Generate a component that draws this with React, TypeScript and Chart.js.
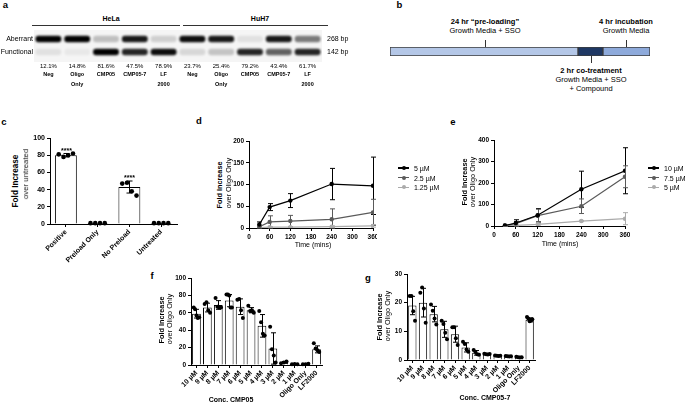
import React, { useEffect, useRef } from 'react';
import { Chart, registerables } from 'chart.js';

Chart.register(...registerables);

const FONT = "'Liberation Sans', Arial, Helvetica, sans-serif";
const BLACK = '#000';

// ---------- Panel a : gel ----------
const gelPercents = ['12.1%', '14.8%', '81.6%', '47.5%', '78.9%', '23.7%', '25.4%', '79.2%', '43.4%', '61.7%'];
const gelLaneNames = [['Neg'], ['Oligo', 'Only'], ['CMP05'], ['CMP05-7'], ['LF', '2000'], ['Neg'], ['Oligo', 'Only'], ['CMP05'], ['CMP05-7'], ['LF', '2000']];
const gelCellLines = ['HeLa', 'HuH7'];
const bandSizesBp = [268, 142];
const bandNames = ['Aberrant', 'Functional'];
const aberrantIntensity = [1, 1, 0.22, 0.9, 0.15, 0.95, 0.9, 0.08, 0.9, 0.5];
const functionalIntensity = [0.08, 0.05, 1, 0.85, 0.95, 0.12, 0.2, 0.85, 0.6, 0.85];

// ---------- Panel b : timeline ----------
const timelineSegments = [72.3, 9.6, 18.1];
const timelineColors = ['#b4c7e7', '#1f3864', '#8eaadb'];

// ---------- Panel c ----------
const cLabels = ['Positive', 'Preload Only', 'No Preload', 'Untreated'];
const cMeans = [80, 1, 43, 1];
const cSD = [2, 0, 7, 0];
const cDots = [[81, 78, 80, 82], [1, 1, 1, 1], [47, 48, 38, 33], [1, 1, 1, 1]];
const cSignif = ['****', '', '****', ''];

// ---------- Panel d ----------
const dTimes = [30, 60, 120, 240, 360];
const dSeriesLabels = ['5 µM', '2.5 µM', '1.25 µM'];
const d5 = [8, 48, 63, 101, 97];
const d5sd = [6, 8, 16, 36, 66];
const d25 = [3, 14, 16, 20, 36];
const d25sd = [2, 14, 13, 24, 30];
const d125 = [1, 2, 2, 3, 5];
const d125sd = [0.5, 1, 1, 2, 3];

// ---------- Panel e ----------
const eTimes = [30, 60, 120, 240, 360];
const eSeriesLabels = ['10 µM', '7.5 µM', '5 µM'];
const e10 = [2, 14, 50, 171, 257];
const e10sd = [1, 15, 31, 84, 107];
const e75 = [2, 11, 48, 92, 229];
const e75sd = [1, 10, 30, 34, 51];
const e5 = [1, 3, 8, 23, 34];
const e5sd = [0.5, 2, 4, 3, 28];

const seriesColors = ['#000000', '#5a5a5a', '#ababab'];

// ---------- Panel f ----------
const concLabels = ['10 µM', '9 µM', '8 µM', '7 µM', '6 µM', '5 µM', '4 µM', '3 µM', '2 µM', '1 µM', 'Oligo Only', 'LF2000'];
const fMeans = [59, 66, 69, 74, 67, 63, 45, 19, 3, 1, 1, 18];
const fSD = [5, 5, 5, 7, 9, 3, 13, 18, 1, 0.2, 0.3, 4];
const fDots = [
  [66, 64, 57, 54, 55], [70, 72, 63, 60], [77, 67, 66, 66], [81, 81, 80, 66, 66],
  [75, 76, 63, 54], [68, 62, 63, 60], [62, 49, 36, 34], [44, 18, 11, 3],
  [2, 3, 4], [1, 1.2, 1], [1, 1, 1.5], [25, 19, 17, 15],
];

// ---------- Panel g ----------
const gMeans = [19, 20, 16, 10.7, 9, 4.4, 2.5, 2, 1.5, 1.3, 1, 14];
const gSD = [3.2, 5, 2.7, 2.8, 2.8, 1.6, 0.8, 0.2, 0.15, 0.1, 0.1, 0.7];
const gDots = [
  [22.3, 22.3, 17, 13.7], [23.5, 25.3, 18, 13], [19.4, 17.2, 14.5, 12.4], [13.7, 12.6, 9.5, 7.2],
  [11.4, 11.4, 7.6, 5.2], [6.4, 5.6, 3.7, 2.9], [3.5, 2.8, 2, 1.8], [2.2, 2, 1.9, 2.1],
  [1.6, 1.5, 1.4, 1.5], [1.4, 1.3, 1.2, 1.3], [1.1, 1, 0.9, 1], [15, 14.5, 13.5, 13.8, 14.2],
];

// ---------- helpers ----------
type ErrItem = { x: number; mean: number; sd: number; color?: string; label?: string };
type Dot = { x: number; y: number };

function makeErrorPlugin(items: ErrItem[], cap: number, under: boolean, dots: Dot[] = [], dotR = 2, starSize = 7) {
  const draw = (chart: any) => {
    const xs = chart.scales.x;
    const ys = chart.scales.y;
    const ctx = chart.ctx;
    ctx.save();
    ctx.lineWidth = 1;
    for (const it of items) {
      const x = Math.round(xs.getPixelForValue(it.x)) + 0.5;
      const top = ys.getPixelForValue(it.mean + it.sd);
      const bot = ys.getPixelForValue(Math.max(it.mean - it.sd, ys.min));
      ctx.strokeStyle = it.color || BLACK;
      if (it.sd > 0) {
        ctx.beginPath();
        ctx.moveTo(x, top); ctx.lineTo(x, bot);
        ctx.moveTo(x - cap, top); ctx.lineTo(x + cap, top);
        ctx.moveTo(x - cap, bot); ctx.lineTo(x + cap, bot);
        ctx.stroke();
      }
      if (it.label) {
        ctx.fillStyle = BLACK;
        ctx.font = `bold ${starSize}px ${FONT}`;
        ctx.textAlign = 'center';
        ctx.textBaseline = 'bottom';
        ctx.fillText(it.label, x, top + 1);
      }
    }
    ctx.fillStyle = BLACK;
    for (const d of dots) {
      const px = xs.getPixelForValue(d.x);
      const py = ys.getPixelForValue(d.y);
      ctx.beginPath();
      ctx.arc(px, py, dotR, 0, Math.PI * 2);
      ctx.fill();
    }
    ctx.restore();
  };
  return {
    id: 'errorBars',
    beforeDatasetsDraw(chart: any) { if (under) draw(chart); },
    afterDatasetsDraw(chart: any) { if (!under) draw(chart); },
  };
}

function yAxis(min: number, max: number, step: number, width: number, size: number) {
  return {
    type: 'linear', position: 'left', min, max,
    ticks: { stepSize: step, color: BLACK, font: { family: FONT, size, weight: 'bold' }, padding: 2 },
    grid: { drawOnChartArea: false, drawTicks: true, tickLength: 3, tickColor: BLACK, color: BLACK },
    border: { display: true, color: BLACK, width: 1 },
    afterFit: (s: any) => { s.width = width; s.paddingTop = 0; s.paddingBottom = 0; },
  };
}

function baseOptions(padTop: number, padRight: number) {
  return {
    responsive: false,
    animation: false,
    events: [],
    layout: { padding: { top: padTop, right: padRight, left: 0, bottom: 0 } },
    plugins: { legend: { display: false }, tooltip: { enabled: false } },
  };
}

function barConfig(p: any) {
  const pts: Dot[] = [];
  p.dots.forEach((vals: number[], i: number) => {
    const k = vals.length;
    vals.forEach((v, j) => pts.push({ x: i + (k > 1 ? (j / (k - 1) - 0.5) * p.spread : 0), y: v }));
  });
  const items: ErrItem[] = p.means.map((m: number, i: number) => ({ x: i, mean: m, sd: p.sds[i], label: p.stars ? p.stars[i] : '' }));
  return {
    type: 'bar',
    data: {
      labels: p.labels,
      datasets: [
        { data: p.means, backgroundColor: '#ffffff', borderColor: BLACK, borderWidth: 1, barPercentage: p.barPct, categoryPercentage: 1 },
      ],
    },
    options: {
      ...baseOptions(p.padTop, p.padRight),
      scales: {
        x: {
          type: 'category', offset: true,
          ticks: { color: BLACK, font: { family: FONT, size: p.xFont, weight: 'bold' }, minRotation: 45, maxRotation: 45, autoSkip: false, padding: 1 },
          grid: { offset: false, drawOnChartArea: false, drawTicks: true, tickLength: 3, tickColor: BLACK, color: BLACK },
          border: { display: true, color: BLACK, width: 1 },
          afterFit: (s: any) => { s.height = p.xH; s.paddingLeft = 0; s.paddingRight = 0; },
        },
        y: yAxis(p.yMin, p.yMax, p.yStep, p.yW, p.yFont),
      },
    },
    plugins: [makeErrorPlugin(items, p.cap, false, pts, p.dotR, p.starSize)],
  };
}

function lineConfig(p: any) {
  const items: ErrItem[] = [];
  p.series.forEach((s: number[], k: number) => s.forEach((v, i) => items.push({ x: p.times[i], mean: v, sd: p.sds[k][i], color: seriesColors[k] })));
  return {
    type: 'line',
    data: {
      datasets: p.series.map((s: number[], k: number) => ({
        label: p.labels[k],
        data: p.times.map((t: number, i: number) => ({ x: t, y: s[i] })),
        borderColor: seriesColors[k], backgroundColor: seriesColors[k],
        borderWidth: 1.2, pointRadius: 2.2, pointBorderWidth: 0, tension: 0,
      })),
    },
    options: {
      ...baseOptions(p.padTop, p.padRight),
      scales: {
        x: {
          type: 'linear', min: 0, max: 360,
          ticks: { stepSize: 60, color: BLACK, font: { family: FONT, size: 6.5, weight: 'bold' }, padding: 2, maxRotation: 0 },
          grid: { drawOnChartArea: false, drawTicks: true, tickLength: 3, tickColor: BLACK, color: BLACK },
          border: { display: true, color: BLACK, width: 1 },
          afterFit: (s: any) => { s.height = p.xH; s.paddingLeft = 0; s.paddingRight = 0; },
        },
        y: yAxis(0, p.yMax, p.yStep, p.yW, 6.5),
      },
    },
    plugins: [makeErrorPlugin(items, 2.5, true)],
  };
}

const gelPlugin = {
  id: 'gel',
  beforeDatasetsDraw(chart: any) {
    const { ctx, chartArea: a } = chart;
    ctx.save();
    ctx.fillStyle = '#f5f5f5';
    ctx.fillRect(a.left, a.top, a.right - a.left, a.bottom - a.top);
    ctx.filter = 'blur(1.3px)';
  },
  afterDatasetsDraw(chart: any) { chart.ctx.restore(); },
};

function gelConfig() {
  const BAND = 1.17;
  const ymin = 87, ymax = 416;
  const mk = (bp: number, intens: number[]) => ({
    type: 'bar',
    data: gelPercents.map(() => [bp / BAND, bp * BAND]),
    backgroundColor: intens.map((a) => `rgba(0,0,0,${a})`),
    borderWidth: 0, barPercentage: 0.9, categoryPercentage: 1, grouped: false, borderRadius: 3, borderSkipped: false,
  });
  const noGrid = { display: false, drawTicks: false };
  return {
    type: 'bar',
    data: { labels: gelPercents, datasets: [mk(bandSizesBp[0], aberrantIntensity), mk(bandSizesBp[1], functionalIntensity)] },
    options: {
      ...baseOptions(0, 0),
      scales: {
        x: {
          type: 'category', position: 'bottom', weight: 0, grid: noGrid, border: { display: false },
          ticks: { color: BLACK, font: { family: FONT, size: 6 }, padding: 1, maxRotation: 0, autoSkip: false },
          afterFit: (s: any) => { s.height = 7; s.paddingLeft = 0; s.paddingRight = 0; },
        },
        x2: {
          type: 'category', position: 'bottom', weight: 1, labels: gelLaneNames, offset: true, grid: noGrid, border: { display: false },
          ticks: { color: BLACK, font: { family: FONT, size: 5.5, weight: 'bold', lineHeight: '10px' }, padding: 0, maxRotation: 0, autoSkip: false },
          afterFit: (s: any) => { s.height = 25; s.paddingLeft = 0; s.paddingRight = 0; },
        },
        y: {
          type: 'logarithmic', position: 'left', min: ymin, max: ymax, grid: noGrid, border: { display: false },
          afterBuildTicks: (s: any) => { s.ticks = bandSizesBp.map((v) => ({ value: v })); },
          ticks: { color: BLACK, font: { family: FONT, size: 7 }, padding: 1, autoSkip: false, callback: (v: any) => bandNames[bandSizesBp.indexOf(Number(v))] },
          afterFit: (s: any) => { s.width = 34; s.paddingTop = 0; s.paddingBottom = 0; },
        },
        y2: {
          type: 'logarithmic', position: 'right', min: ymin, max: ymax, grid: noGrid, border: { display: false },
          afterBuildTicks: (s: any) => { s.ticks = bandSizesBp.map((v) => ({ value: v })); },
          ticks: { color: BLACK, font: { family: FONT, size: 7 }, padding: 5, autoSkip: false, callback: (v: any) => `${v} bp` },
          afterFit: (s: any) => { s.width = 30; s.paddingTop = 0; s.paddingBottom = 0; },
        },
      },
    },
    plugins: [gelPlugin],
  };
}

function timelineConfig() {
  return {
    type: 'bar',
    data: {
      labels: [''],
      datasets: timelineSegments.map((v, i) => ({
        data: [v], backgroundColor: timelineColors[i], borderColor: '#3c3c3c', borderWidth: 1,
        borderSkipped: false, barPercentage: 1, categoryPercentage: 1,
      })),
    },
    options: {
      ...baseOptions(1, 1),
      layout: { padding: 1 },
      indexAxis: 'y',
      scales: {
        x: { type: 'linear', stacked: true, min: 0, max: 100, display: false },
        y: { type: 'category', stacked: true, display: false },
      },
    },
  };
}

// ---------- components ----------
function ChartCanvas({ left, top, width, height, make }: any) {
  const ref = useRef<HTMLCanvasElement | null>(null);
  useEffect(() => {
    const chart = new Chart(ref.current as HTMLCanvasElement, make());
    return () => chart.destroy();
  }, []);
  return <canvas ref={ref} width={width} height={height} style={{ position: 'absolute', left, top, width, height }} />;
}

function Txt({ x, y, children, size = 7, bold = false, align = 'center' }: any) {
  const tx = align === 'center' ? '-50%' : align === 'right' ? '-100%' : '0';
  return (
    <div style={{ position: 'absolute', left: x, top: y, transform: `translate(${tx}, -50%)`, fontSize: size, fontWeight: bold ? 700 : 400, lineHeight: 1, whiteSpace: 'nowrap', color: BLACK }}>
      {children}
    </div>
  );
}

function VTxt({ x, y, children, size = 7.3, bold = false, color = BLACK }: any) {
  return (
    <div style={{ position: 'absolute', left: x, top: y, transform: 'translate(-50%, -50%) rotate(-90deg)', fontSize: size, fontWeight: bold ? 700 : 400, lineHeight: 1, whiteSpace: 'nowrap', color }}>
      {children}
    </div>
  );
}

function Line({ x, y, w, h, color = '#333' }: any) {
  return <div style={{ position: 'absolute', left: x, top: y, width: w, height: h, background: color }} />;
}

function LegendRow({ x, y, color, label }: any) {
  return (
    <>
      <div style={{ position: 'absolute', left: x, top: y - 0.6, width: 11, height: 1.2, background: color }} />
      <div style={{ position: 'absolute', left: x + 3.5, top: y - 2, width: 4, height: 4, borderRadius: 2, background: color }} />
      <Txt x={x + 16} y={y} size={7} align="left">{label}</Txt>
    </>
  );
}

export default function App() {
  return (
    <div style={{ position: 'fixed', left: 0, top: 0, width: 685, height: 404, background: '#fff', overflow: 'hidden', fontFamily: FONT }}>
      {/* panel letters */}
      <Txt x={5.5} y={5} size={9.5} bold>a</Txt>
      <Txt x={399.5} y={5} size={9.5} bold>b</Txt>
      <Txt x={4} y={122} size={9.5} bold>c</Txt>
      <Txt x={199} y={121} size={9.5} bold>d</Txt>
      <Txt x={453} y={122} size={9.5} bold>e</Txt>
      <Txt x={152} y={276} size={9.5} bold>f</Txt>
      <Txt x={368} y={278} size={9.5} bold>g</Txt>

      {/* panel a */}
      <Txt x={111} y={18} size={7} bold>{gelCellLines[0]}</Txt>
      <Txt x={260} y={18} size={7} bold>{gelCellLines[1]}</Txt>
      <Line x={32} y={25} w={148} h={1} />
      <Line x={183} y={25} w={145} h={1} />
      <ChartCanvas left={0} top={30} width={352} height={64} make={gelConfig} />

      {/* panel b */}
      <Txt x={485} y={22} size={7.5} bold>24 hr “pre-loading”</Txt>
      <Txt x={485} y={31} size={7.5}>Growth Media + SSO</Txt>
      <Txt x={626} y={22} size={7.5} bold>4 hr incubation</Txt>
      <Txt x={626} y={31} size={7.5}>Growth Media</Txt>
      <Txt x={591} y={71} size={7.5} bold>2 hr co-treatment</Txt>
      <Txt x={591} y={80} size={7.5}>Growth Media + SSO</Txt>
      <Txt x={591} y={89} size={7.5}>+ Compound</Txt>
      <Line x={485} y={40} w={1} h={7} />
      <Line x={626} y={40} w={1} h={7} />
      <Line x={591} y={56} w={1} h={7} />
      <ChartCanvas left={389} top={46} width={262} height={11} make={timelineConfig} />

      {/* panel c */}
      <ChartCanvas left={28} top={130} width={152} height={150} make={() => barConfig({
        labels: cLabels, means: cMeans, sds: cSD, dots: cDots, stars: cSignif, spread: 0.45, dotR: 2.3, barPct: 0.69,
        yMin: 0, yMax: 100, yStep: 20, yW: 22, yFont: 7, xFont: 7, xH: 56, padTop: 8, padRight: 3, cap: 3, starSize: 7,
      })} />
      <VTxt x={15.5} y={181} size={8.2} bold>Fold Increase</VTxt>
      <VTxt x={25.5} y={174} size={7.8} color="#222">over untreated</VTxt>

      {/* panel d */}
      <ChartCanvas left={225} top={131} width={152} height={122} make={() => lineConfig({
        times: dTimes, series: [d5, d25, d125], sds: [d5sd, d25sd, d125sd], labels: dSeriesLabels,
        yMax: 200, yStep: 50, yW: 24, xH: 25, padTop: 10, padRight: 4,
      })} />
      <VTxt x={220} y={185} bold>Fold Increase</VTxt>
      <VTxt x={228.5} y={183}>over Oligo Only</VTxt>
      <Txt x={313} y={244} size={7}>Time (mins)</Txt>
      {dSeriesLabels.map((l, k) => <LegendRow key={l} x={398} y={168 + k * 9.7} color={seriesColors[k]} label={l} />)}

      {/* panel e */}
      <ChartCanvas left={468} top={130} width={162} height={122} make={() => lineConfig({
        times: eTimes, series: [e10, e75, e5], sds: [e10sd, e75sd, e5sd], labels: eSeriesLabels,
        yMax: 400, yStep: 100, yW: 26, xH: 26, padTop: 10, padRight: 5,
      })} />
      <VTxt x={465} y={182} bold>Fold Increase</VTxt>
      <VTxt x={472.5} y={182}>over Oligo Only</VTxt>
      <Txt x={560} y={243} size={7}>Time (mins)</Txt>
      {eSeriesLabels.map((l, k) => <LegendRow key={l} x={648} y={168 + k * 9.7} color={seriesColors[k]} label={l} />)}

      {/* panel f */}
      <ChartCanvas left={165} top={270} width={160} height={134} make={() => barConfig({
        labels: concLabels, means: fMeans, sds: fSD, dots: fDots, spread: 0.5, dotR: 2, barPct: 0.8,
        yMin: 0, yMax: 100, yStep: 20, yW: 26, yFont: 6.5, xFont: 7, xH: 39, padTop: 8, padRight: 3, cap: 2.5,
      })} />
      <VTxt x={162} y={320} bold>Fold Increase</VTxt>
      <VTxt x={170} y={319}>over Oligo Only</VTxt>
      <Txt x={231} y={399} size={7} bold>Conc. CMP05</Txt>

      {/* panel g */}
      <ChartCanvas left={380} top={266} width={158} height={138} make={() => barConfig({
        labels: concLabels, means: gMeans, sds: gSD, dots: gDots, spread: 0.5, dotR: 2, barPct: 0.78,
        yMin: 0, yMax: 30, yStep: 10, yW: 27, yFont: 6.5, xFont: 7, xH: 44, padTop: 8, padRight: 3, cap: 2.5,
      })} />
      <VTxt x={380} y={316.5} bold>Fold Increase</VTxt>
      <VTxt x={387.5} y={316}>over Oligo Only</VTxt>
      <Txt x={485} y={397} size={7} bold>Conc. CMP05-7</Txt>
    </div>
  );
}
